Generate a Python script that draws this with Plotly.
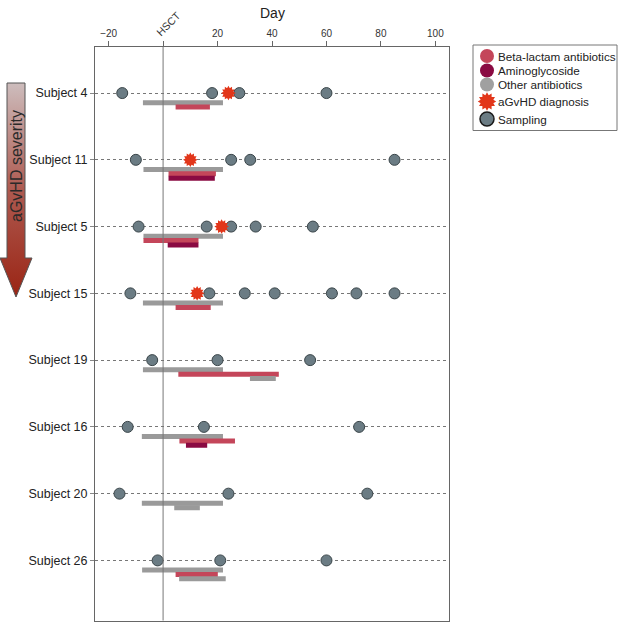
import plotly.graph_objects as go

# ---------------- data ----------------
subjects = ["Subject 4", "Subject 11", "Subject 5", "Subject 15",
            "Subject 19", "Subject 16", "Subject 20", "Subject 26"]

sampling_days = [
    [-15, 18, 28, 60],
    [-10, 25, 32, 85],
    [-9, 16, 25, 34, 55],
    [-12, 17, 30, 41, 62, 71, 85],
    [-4, 20, 54],
    [-13, 15, 72],
    [-16, 24, 75],
    [-2, 21, 60],
]

diagnosis_days = [24, 10, 21.5, 12.5, None, None, None, None]

# treatments per subject, listed top to bottom: (class, start day, end day)
treatments = [
    [("Other", -7.4, 22), ("Beta", 4.6, 17.2)],
    [("Other", -7.2, 22), ("Beta", 2, 19.4), ("Amino", 2, 19)],
    [("Other", -7.2, 22), ("Beta", -7.2, 13), ("Amino", 1.7, 13)],
    [("Other", -7.4, 22), ("Beta", 4.6, 17.5)],
    [("Other", -7.4, 22), ("Beta", 5.6, 42.5), ("Other", 31.9, 41.4)],
    [("Other", -7.8, 22), ("Beta", 6, 26.4), ("Amino", 8.4, 16.2)],
    [("Other", -7.8, 22), ("Other", 4.1, 13.5)],
    [("Other", -7.7, 22), ("Beta", 4.6, 20.1), ("Other", 5.9, 23)],
]

x_ticks = [-20, 0, 20, 40, 60, 80, 100]
x_tick_text = ["\u221220", "", "20", "40", "60", "80", "100"]

legend_labels = ["Beta-lactam antibiotics", "Aminoglycoside", "Other antibiotics",
                 "aGvHD diagnosis", "Sampling"]

# ---------------- styles ----------------
FONT = "Liberation Sans, Arial, sans-serif"
class_color = {"Beta": "#c4465a", "Amino": "#8a0a42", "Other": "#9a9a9a"}
lane_offset = [0.145, 0.21, 0.275]
SAMPLE_FILL = "#6b7c84"
SAMPLE_LINE = "#3a4549"
STAR = "#e2361a"

W, H = 620, 622
px_l, px_r, px_t, px_b = 95, 449, 47, 620.5

fig = go.Figure()

# treatment bars
for i, rows in enumerate(treatments):
    yrow = i + 1
    for lane, (cls, s, e) in enumerate(rows):
        yy = yrow + lane_offset[lane]
        fig.add_trace(go.Scatter(
            x=[s, e], y=[yy, yy], mode="lines",
            line=dict(color=class_color[cls], width=5),
            showlegend=False, hoverinfo="skip"))

# sampling points
sx, sy = [], []
for i, days in enumerate(sampling_days):
    for d in days:
        sx.append(d)
        sy.append(i + 1)
fig.add_trace(go.Scatter(
    x=sx, y=sy, mode="markers", showlegend=False,
    marker=dict(symbol="circle", size=11, color=SAMPLE_FILL,
                line=dict(color=SAMPLE_LINE, width=1))))

# diagnosis stars
dx = [d for d in diagnosis_days if d is not None]
dy = [i + 1 for i, d in enumerate(diagnosis_days) if d is not None]
for ang in (0, 30):
    fig.add_trace(go.Scatter(
        x=dx, y=dy, mode="markers", showlegend=False,
        marker=dict(symbol="hexagram", size=11, color=STAR, angle=ang,
                    line=dict(width=0))))

# ---- overlay pixel axis (x3/y3) for arrow + legend: y = H - pixel_y ----
def P(yp):
    return H - yp

# severity arrow
arrow_x = [7, 25, 25, 32, 16, 0, 7, 7]
arrow_yp = [83, 83, 258, 258, 297, 258, 258, 83]
fig.add_trace(go.Scatter(
    x=arrow_x, y=[P(v) for v in arrow_yp], xaxis="x3", yaxis="y3", mode="lines",
    line=dict(color="#555555", width=1), fill="toself",
    fillgradient=dict(type="vertical",
                      colorscale=[[0, "#9a2414"], [0.5, "#ae5a50"], [1, "#cdbdbd"]]),
    showlegend=False, hoverinfo="skip"))

# manual legend
leg_y = [56, 70.5, 84.5, 101.5, 119]
leg_sym = ["circle", "circle", "circle", "hexagram", "circle"]
leg_col = [class_color["Beta"], class_color["Amino"], "#a0a0a0", STAR, SAMPLE_FILL]
leg_line = [0, 0, 0, 0, 1.5]
LEG_MX, LEG_TX = 487, 496
for yv, sym, col, lw in zip(leg_y, leg_sym, leg_col, leg_line):
    fig.add_trace(go.Scatter(
        x=[LEG_MX], y=[P(yv)], xaxis="x3", yaxis="y3", mode="markers",
        marker=dict(symbol=sym, size=14, color=col,
                    line=dict(color="#1a1a1a", width=lw)),
        showlegend=False, hoverinfo="skip"))
fig.add_trace(go.Scatter(
    x=[LEG_MX], y=[P(101.5)], xaxis="x3", yaxis="y3", mode="markers",
    marker=dict(symbol="hexagram", size=14, color=STAR, angle=30,
                line=dict(width=0)),
    showlegend=False, hoverinfo="skip"))

annotations = [
    dict(text="Day", x=272, y=P(13), xref="x3", yref="y3", showarrow=False,
         font=dict(size=14, color="#222222")),
    dict(text="HSCT", x=168, y=P(24), xref="x3", yref="y3",
         showarrow=False, textangle=-45,
         font=dict(size=10.5, color="#333333")),
    dict(text="aGvHD severity", x=16, y=P(166), xref="x3", yref="y3",
         showarrow=False, textangle=-90,
         font=dict(size=16, color="#2a2a2a")),
]
for yv, lab in zip(leg_y, legend_labels):
    annotations.append(dict(text=lab, x=LEG_TX, y=P(yv), xref="x3", yref="y3",
                            xanchor="left", showarrow=False,
                            font=dict(size=11.7, color="#222222")))

fig.update_layout(
    width=W, height=H,
    margin=dict(l=0, r=0, t=0, b=0, autoexpand=False),
    paper_bgcolor="white", plot_bgcolor="rgba(0,0,0,0)",
    font=dict(family=FONT, color="#222222"),
    showlegend=False,
    xaxis=dict(domain=[px_l / W, px_r / W], range=[-25, 105], side="top",
               tickvals=x_ticks, ticktext=x_tick_text, automargin=False,
               ticks="outside", ticklen=5, tickcolor="#666666",
               tickfont=dict(size=10, color="#333333"),
               showgrid=False, zeroline=False,
               showline=True, linecolor="#666666", linewidth=1, mirror=True),
    yaxis=dict(domain=[1 - px_b / H, 1 - px_t / H], range=[8.9, 0.31],
               tickvals=list(range(1, len(subjects) + 1)), ticktext=subjects,
               automargin=False,
               ticks="outside", ticklen=4, tickcolor="#888888",
               tickfont=dict(size=12.5, color="#222222"),
               showgrid=True, gridcolor="#777777", griddash="dot", gridwidth=1,
               zeroline=False,
               showline=True, linecolor="#666666", linewidth=1, mirror=True),
    xaxis3=dict(domain=[0, 1], range=[0, W], visible=False, anchor="y3",
                automargin=False, fixedrange=True),
    yaxis3=dict(domain=[0, 1], range=[0, H], visible=False, anchor="x3",
                automargin=False, fixedrange=True),
    shapes=[
        dict(type="line", xref="x", yref="paper", x0=0, x1=0,
             y0=1 - px_b / H, y1=1 - px_t / H,
             line=dict(color="#777777", width=1)),
        dict(type="rect", xref="paper", yref="paper",
             x0=473 / W, x1=617 / W, y0=1 - 130.5 / H, y1=1 - 45 / H,
             line=dict(color="#777777", width=1)),
    ],
    annotations=annotations,
)

fig.write_html("out.html", config={"displayModeBar": False},
               post_script="document.body.style.margin='0';")
